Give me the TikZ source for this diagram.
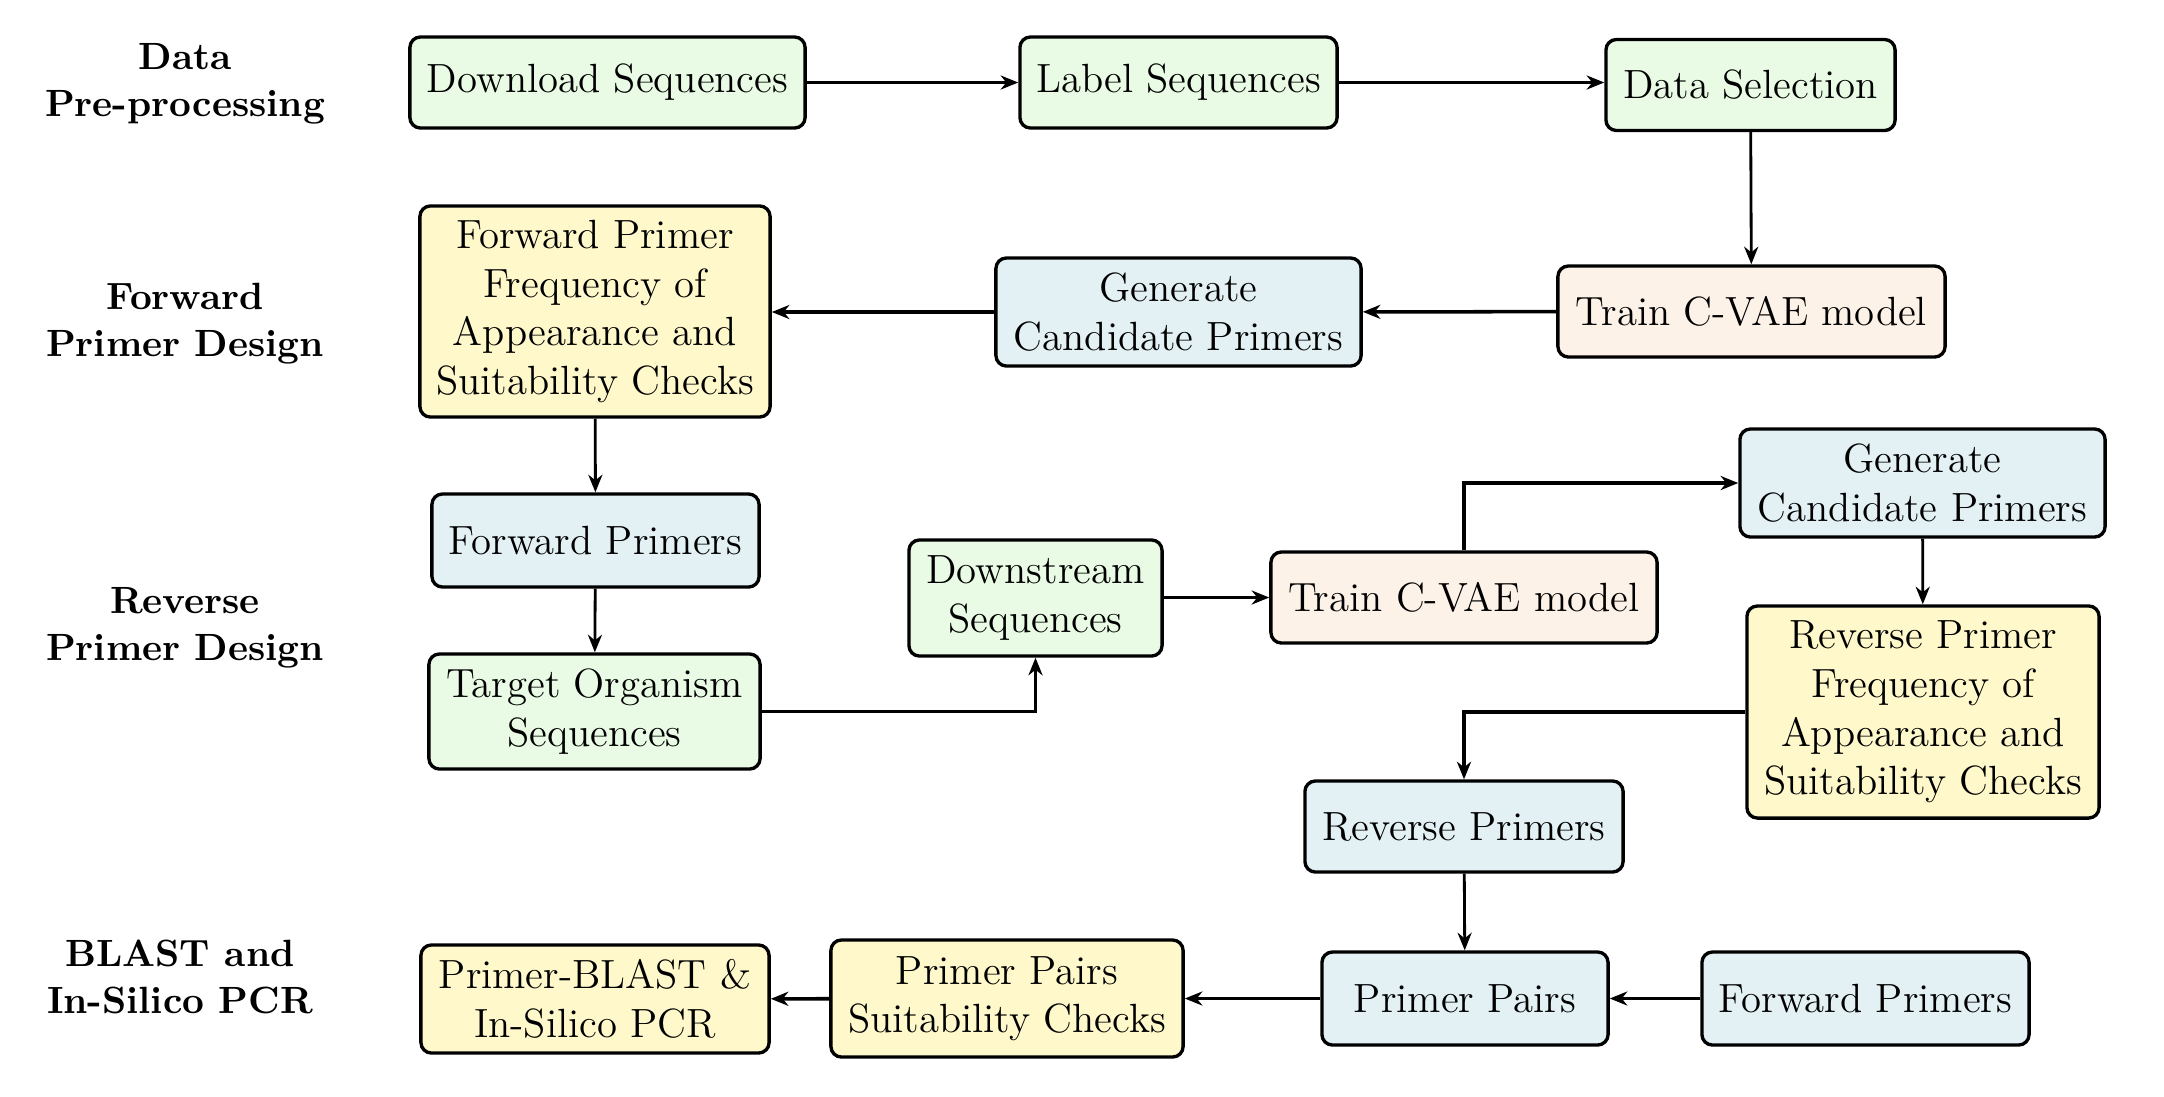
\documentclass[tikz,border=0pt]{standalone}
\usetikzlibrary{arrows.meta}
\definecolor{cgreen}{RGB}{233,251,229}
\definecolor{cblue}{RGB}{227,241,245}
\definecolor{cyellow}{RGB}{254,248,202}
\definecolor{cpeach}{RGB}{253,242,231}
\begin{document}
\begin{tikzpicture}[x=0.01cm,y=-0.01cm,
  box/.style={draw=black,line width=0.95pt,rounded corners=3pt,align=center,inner sep=0pt,
    font=\fontsize{11.6}{13.8}\selectfont},
  gbox/.style={box,fill=cgreen},
  bbox/.style={box,fill=cblue},
  ybox/.style={box,fill=cyellow},
  pbox/.style={box,fill=cpeach},
  lab/.style={align=center,font=\fontsize{10.8}{13.4}\selectfont\bfseries},
  arr/.style={line width=0.8pt,-{Stealth[length=5pt,width=4pt,inset=1.6pt]}},
  harr/.style={arr,line width=1pt}]
\useasboundingbox (0,0) rectangle (2164,1096);
% row labels
\node[lab] (l1) at (185,84) {Data\\Pre-processing};
\node[lab] (l2) at (185,324) {Forward\\Primer Design};
\node[lab] (l3) at (185,628) {Reverse\\Primer Design};
\node[lab] (l4) at (180,977) {BLAST and\\In-Silico PCR};
% nodes
\node[gbox,minimum width=3.95cm,minimum height=0.91cm] (dl) at (607.5,82.5) {Download Sequences};
\node[gbox,minimum width=3.17cm,minimum height=0.91cm] (lb) at (1178.5,82.5) {Label Sequences};
\node[gbox,minimum width=2.89cm,minimum height=0.91cm] (sel) at (1750.5,85) {Data Selection};
\node[pbox,minimum width=3.87cm,minimum height=0.91cm] (tr1) at (1751.5,311.5) {Train C-VAE model};
\node[bbox,minimum width=3.65cm,minimum height=1.08cm] (gen1) at (1178.5,312) {Generate\\Candidate Primers};
\node[ybox,minimum width=3.50cm,minimum height=2.11cm] (ff) at (595,311.5) {Forward Primer\\Frequency of\\Appearance and\\Suitability Checks};
\node[bbox,minimum width=3.27cm,minimum height=0.93cm] (fp) at (595.5,540.5) {Forward Primers};
\node[gbox,minimum width=3.31cm,minimum height=1.15cm] (tgt) at (594.5,711.5) {Target Organism\\Sequences};
\node[gbox,minimum width=2.53cm,minimum height=1.16cm] (ds) at (1035.5,598) {Downstream\\Sequences};
\node[pbox,minimum width=3.86cm,minimum height=0.91cm] (tr2) at (1464,597.5) {Train C-VAE model};
\node[bbox,minimum width=3.65cm,minimum height=1.08cm] (gen2) at (1922.5,483) {Generate\\Candidate Primers};
\node[ybox,minimum width=3.52cm,minimum height=2.12cm] (rf) at (1923,712) {Reverse Primer\\Frequency of\\Appearance and\\Suitability Checks};
\node[bbox,minimum width=3.18cm,minimum height=0.91cm] (rp) at (1464,826.5) {Reverse Primers};
\node[bbox,minimum width=2.86cm,minimum height=0.93cm] (pp) at (1465,998.5) {Primer Pairs};
\node[bbox,minimum width=3.27cm,minimum height=0.93cm] (fp2) at (1865.5,998.5) {Forward Primers};
\node[ybox,minimum width=3.52cm,minimum height=1.17cm] (ppsc) at (1007,998.5) {Primer Pairs\\Suitability Checks};
\node[ybox,minimum width=3.48cm,minimum height=1.08cm] (pb) at (595,999) {Primer-BLAST \&\\In-Silico PCR};
% arrows
\draw[harr] (dl) -- (lb);
\draw[harr] (lb.east) -- (lb.east -| sel.west);
\draw[arr] (sel) -- (tr1);
\draw[harr] (tr1) -- (gen1);
\draw[harr] (gen1.west) -- (gen1.west -| ff.east);
\draw[arr] (ff) -- (fp);
\draw[arr] (fp) -- (tgt);
\draw[harr] (tgt.east) -| (ds.south);
\draw[harr] (ds.east |- tr2.west) -- (tr2.west);
\draw[harr] (tr2.north) |- (gen2.west);
\draw[arr] (gen2) -- (rf);
\draw[harr] (rf.west) -| (rp.north);
\draw[arr] (rp) -- (pp);
\draw[harr] (fp2) -- (pp);
\draw[harr] (pp) -- (ppsc);
\draw[harr] (ppsc) -- (pb);
\end{tikzpicture}
\end{document}
